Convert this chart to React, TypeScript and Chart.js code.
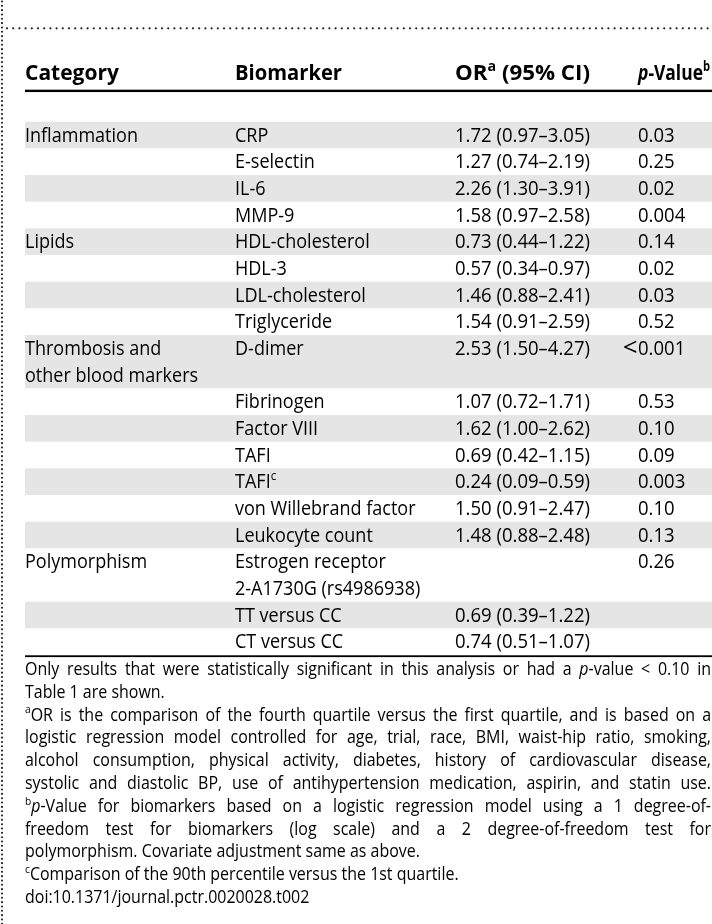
import React, { useEffect, useRef } from "react";
import { Chart, registerables } from "chart.js";

Chart.register(...registerables);

// ---------- data ----------
const headerLabels = ["Category", "Biomarker", "OR^a (95% CI)", "*p*-Value^b"];
const categories = [
  "Inflammation", "", "", "",
  "Lipids", "", "", "",
  "Thrombosis and\nother blood markers", "", "", "", "", "", "",
  "Polymorphism", "", "",
];
const biomarkers = [
  "CRP", "E-selectin", "IL-6", "MMP-9",
  "HDL-cholesterol", "HDL-3", "LDL-cholesterol", "Triglyceride",
  "D-dimer", "Fibrinogen", "Factor VIII", "TAFI", "TAFI^c", "von Willebrand factor", "Leukocyte count",
  "Estrogen receptor\n2-A1730G (rs4986938)", "TT versus CC", "CT versus CC",
];
const oddsRatios = [1.72, 1.27, 2.26, 1.58, 0.73, 0.57, 1.46, 1.54, 2.53, 1.07, 1.62, 0.69, 0.24, 1.5, 1.48, null, 0.69, 0.74];
const ciLower = [0.97, 0.74, 1.3, 0.97, 0.44, 0.34, 0.88, 0.91, 1.5, 0.72, 1.0, 0.42, 0.09, 0.91, 0.88, null, 0.39, 0.51];
const ciUpper = [3.05, 2.19, 3.91, 2.58, 1.22, 0.97, 2.41, 2.59, 4.27, 1.71, 2.62, 1.15, 0.59, 2.47, 2.48, null, 1.22, 1.07];
const pValues = ["0.03", "0.25", "0.02", "0.004", "0.14", "0.02", "0.03", "0.52", "<0.001", "0.53", "0.10", "0.09", "0.003", "0.10", "0.13", "0.26", "", ""];

const footnoteLines = [
  "Only results that were statistically significant in this analysis or had a *p*-value < 0.10 in",
  "Table 1 are shown.",
  "^aOR is the comparison of the fourth quartile versus the first quartile, and is based on a",
  "logistic regression model controlled for age, trial, race, BMI, waist-hip ratio, smoking,",
  "alcohol consumption, physical activity, diabetes, history of cardiovascular disease,",
  "systolic and diastolic BP, use of antihypertension medication, aspirin, and statin use.",
  "^b*p*-Value for biomarkers based on a logistic regression model using a 1 degree-of-",
  "freedom test for biomarkers (log scale) and a 2 degree-of-freedom test for",
  "polymorphism. Covariate adjustment same as above.",
  "^cComparison of the 90th percentile versus the 1st quartile.",
  "doi:10.1371/journal.pctr.0020028.t002",
];
const footnoteJustified = [true, false, true, true, true, true, true, true, false, false, false];

// ---------- helpers ----------
const FAMILY = '"Open Sans", "Noto Sans", sans-serif';
type Seg = { t: string; i?: boolean; b?: boolean; sup?: boolean };

function parseRich(s: string, bold = false): Seg[] {
  const segs: Seg[] = [];
  let cur = "";
  let italic = false;
  for (let k = 0; k < s.length; k++) {
    const c = s[k];
    if (c === "*") {
      if (cur) segs.push({ t: cur, i: italic, b: bold });
      cur = "";
      italic = !italic;
    } else if (c === "^") {
      if (cur) segs.push({ t: cur, i: italic, b: bold });
      cur = "";
      segs.push({ t: s[k + 1], sup: true, b: bold });
      k++;
    } else cur += c;
  }
  if (cur) segs.push({ t: cur, i: italic, b: bold });
  return segs;
}

function fontOf(seg: Seg, size: number) {
  const px = seg.sup ? size * 0.64 : size;
  return `${seg.i ? "italic " : ""}${seg.b ? "bold " : ""}${px}px ${FAMILY}`;
}

function richWidth(ctx: CanvasRenderingContext2D, segs: Seg[], size: number, sx: number) {
  let w = 0;
  for (const s of segs) {
    ctx.font = fontOf(s, size);
    w += ctx.measureText(s.t).width;
  }
  return w * sx;
}

function drawRich(ctx: CanvasRenderingContext2D, segs: Seg[], x: number, y: number, size: number, sx: number) {
  ctx.save();
  ctx.translate(x, y);
  ctx.scale(sx, 1);
  let cx = 0;
  for (const s of segs) {
    ctx.font = fontOf(s, size);
    ctx.fillText(s.t, cx, s.sup ? -size * 0.4 : 0);
    cx += ctx.measureText(s.t).width;
  }
  ctx.restore();
}

function fmtOR(i: number) {
  const v = oddsRatios[i];
  if (v == null) return "";
  return `${v.toFixed(2)} (${(ciLower[i] as number).toFixed(2)}–${(ciUpper[i] as number).toFixed(2)})`;
}

const rowLines = biomarkers.map((b, i) => Math.max(b.split("\n").length, categories[i].split("\n").length));
const totalLines = rowLines.reduce((a, b) => a + b, 0);

// ---------- plugin ----------
const BODY = 20;
const HEAD = 22;
const FOOT = 18;
const headerWidths = [94, 107, 135, 72];

const tablePlugin = {
  id: "tableDraw",
  afterDraw(chart: any) {
    const ctx: CanvasRenderingContext2D = chart.ctx;
    const xs = chart.scales.x;
    const ys = chart.scales.y;
    const area = chart.chartArea;
    const W = area.right - area.left;
    const lineH = ys.getPixelForValue(1) - ys.getPixelForValue(0);
    ctx.save();
    ctx.fillStyle = "#000";
    ctx.textBaseline = "alphabetic";
    ctx.textAlign = "left";

    const bodySx = 113 / richWidth(ctx, parseRich("Inflammation"), BODY, 1);
    const orSx = 135 / richWidth(ctx, parseRich("1.72 (0.97–3.05)"), BODY, 1);
    const footSx = 395 / richWidth(ctx, parseRich("polymorphism. Covariate adjustment same as above."), FOOT, 1);

    // dotted frame
    ctx.fillStyle = "#222";
    for (let x = 7; x <= 712; x += 6.2) {
      ctx.beginPath();
      ctx.arc(x, 28.3, 1.1, 0, Math.PI * 2);
      ctx.fill();
    }
    for (let y = 1.5; y <= 924; y += 4.33) {
      ctx.beginPath();
      ctx.arc(2, y, 1.05, 0, Math.PI * 2);
      ctx.fill();
    }

    // shaded bands
    let line = 0;
    ctx.fillStyle = "#e5e5e5";
    rowLines.forEach((n, i) => {
      if (i % 2 === 0) {
        const t = ys.getPixelForValue(line);
        const b = ys.getPixelForValue(line + n);
        ctx.fillRect(area.left, t, W, b - t);
      }
      line += n;
    });

    // header
    ctx.fillStyle = "#000";
    const colX = [xs.getPixelForValue(0), xs.getPixelForValue(210), xs.getPixelForValue(430), xs.getPixelForValue(613)];
    const headBase = area.top - 41.7;
    headerLabels.forEach((h, k) => {
      const segs = parseRich(h, true);
      const sx = headerWidths[k] / richWidth(ctx, segs, HEAD, 1);
      drawRich(ctx, segs, colX[k], headBase, HEAD, sx);
    });
    ctx.fillRect(area.left, area.top - 32, W, 2.4);

    // rows
    line = 0;
    rowLines.forEach((n, i) => {
      const top = ys.getPixelForValue(line);
      categories[i].split("\n").forEach((c, k) => {
        if (c) drawRich(ctx, parseRich(c), colX[0], top + lineH * (k + 0.75), BODY, bodySx);
      });
      biomarkers[i].split("\n").forEach((c, k) => {
        if (c) drawRich(ctx, parseRich(c), colX[1], top + lineH * (k + 0.75), BODY, bodySx);
      });
      const or = fmtOR(i);
      if (or) drawRich(ctx, parseRich(or), colX[2], top + lineH * 0.75, BODY, orSx);
      const p = pValues[i];
      if (p) {
        const base = top + lineH * 0.75;
        if (p.startsWith("<")) {
          const lt = parseRich("<");
          const lsz = BODY * 1.3;
          const lw = richWidth(ctx, lt, lsz, 1);
          drawRich(ctx, lt, colX[3] - lw - 0.5, base + 1, lsz, 1);
          drawRich(ctx, parseRich(p.slice(1)), colX[3], base, BODY, orSx);
        } else {
          drawRich(ctx, parseRich(p), colX[3], base, BODY, orSx);
        }
      }
      line += n;
    });
    ctx.fillRect(area.left, area.bottom + 0.3, W, 1.8);

    // footnotes
    const fRight = 711;
    const fLeft = area.left;
    const targetW = fRight - fLeft;
    footnoteLines.forEach((ln, k) => {
      const y = area.bottom + 20 + k * 22.8;
      const words = ln.split(" ").map((w) => parseRich(w));
      let sx = footSx;
      ctx.font = `${FOOT}px ${FAMILY}`;
      const spaceW = ctx.measureText(" ").width;
      const wordsW = words.reduce((a, w) => a + richWidth(ctx, w, FOOT, 1), 0);
      if (footnoteJustified[k]) {
        const natural = (wordsW + spaceW * (words.length - 1)) * sx;
        if (natural > targetW) sx = sx * (targetW / natural);
        const gap = (targetW - wordsW * sx) / (words.length - 1);
        let x = fLeft;
        words.forEach((w) => {
          drawRich(ctx, w, x, y, FOOT, sx);
          x += richWidth(ctx, w, FOOT, sx) + gap;
        });
      } else {
        drawRich(ctx, parseRich(ln), fLeft, y, FOOT, sx);
      }
    });

    ctx.restore();
  },
};

export default function App() {
  const ref = useRef<HTMLCanvasElement | null>(null);
  useEffect(() => {
    if (!ref.current) return;
    const chart = new Chart(ref.current, {
      type: "scatter",
      data: { datasets: [] },
      options: {
        responsive: false,
        animation: false,
        devicePixelRatio: 1,
        events: [],
        layout: { padding: { left: 25, right: 0, top: 121.67, bottom: 924 - 655 } },
        plugins: { legend: { display: false }, tooltip: { enabled: false } },
        scales: {
          x: { type: "linear", display: false, min: 0, max: 687 },
          y: { type: "linear", display: false, min: 0, max: totalLines, reverse: true },
        },
      },
      plugins: [tablePlugin],
    } as any);
    let alive = true;
    (document as any).fonts?.ready?.then(() => {
      if (alive) chart.draw();
    });
    return () => {
      alive = false;
      chart.destroy();
    };
  }, []);
  return (
    <div style={{ position: "absolute", left: 0, top: 0, width: 712, height: 924, background: "#fff" }}>
      <canvas ref={ref} width={712} height={924} style={{ display: "block" }} />
    </div>
  );
}
